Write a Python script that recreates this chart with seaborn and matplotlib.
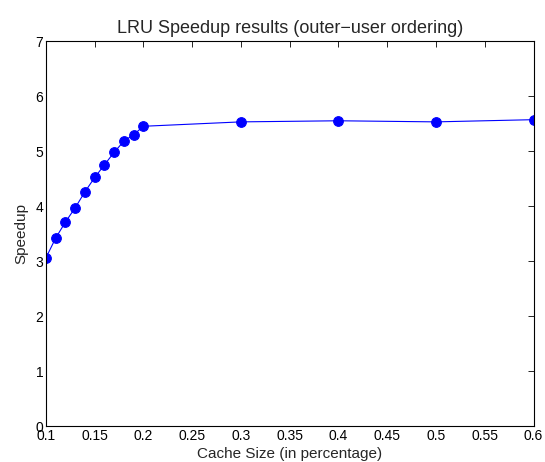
import matplotlib
matplotlib.use("Agg")
import matplotlib.pyplot as plt
import seaborn as sns
import pandas as pd

cache_size = [0.10, 0.11, 0.12, 0.13, 0.14, 0.15, 0.16, 0.17, 0.18, 0.19, 0.20, 0.30, 0.40, 0.50, 0.60]
speedup = [3.06, 3.42, 3.71, 3.97, 4.26, 4.52, 4.75, 4.98, 5.18, 5.30, 5.45, 5.53, 5.55, 5.53, 5.57]
x_ticks = [0.1, 0.15, 0.2, 0.25, 0.3, 0.35, 0.4, 0.45, 0.5, 0.55, 0.6]
x_tick_labels = ["0.1", "0.15", "0.2", "0.25", "0.3", "0.35", "0.4", "0.45", "0.5", "0.55", "0.6"]
y_ticks = [0, 1, 2, 3, 4, 5, 6, 7]

sns.set_style("white")
plt.rcParams["font.family"] = ["Liberation Sans", "DejaVu Sans"]

df = pd.DataFrame({"x": cache_size, "y": speedup})

fig = plt.figure(figsize=(5.45, 4.62), dpi=100)
ax = fig.add_axes([0.0844, 0.0779, 0.8945, 0.8333])
sns.lineplot(data=df, x="x", y="y", ax=ax, color="#0000ff", linewidth=0.8,
             marker="o", markersize=7, markeredgecolor="#0000ff", markerfacecolor="#0000ff")

ax.set_xlim(0.1, 0.6)
ax.set_ylim(0, 7)
ax.set_xticks(x_ticks)
ax.set_xticklabels(x_tick_labels)
ax.set_yticks(y_ticks)
ax.tick_params(direction="in", top=True, right=True, length=4, width=0.6,
               labelsize=10, colors="black", pad=2)
for s in ax.spines.values():
    s.set_visible(True)
    s.set_color("black")
    s.set_linewidth(0.8)
ax.set_xlabel("Cache Size (in percentage)", fontsize=11, labelpad=3)
ax.set_ylabel("Speedup", fontsize=11, labelpad=5)
ax.set_title("LRU Speedup results (outer\u2212user ordering)", fontsize=13, pad=6)
ax.grid(False)

fig.savefig("out.png", dpi=100)
